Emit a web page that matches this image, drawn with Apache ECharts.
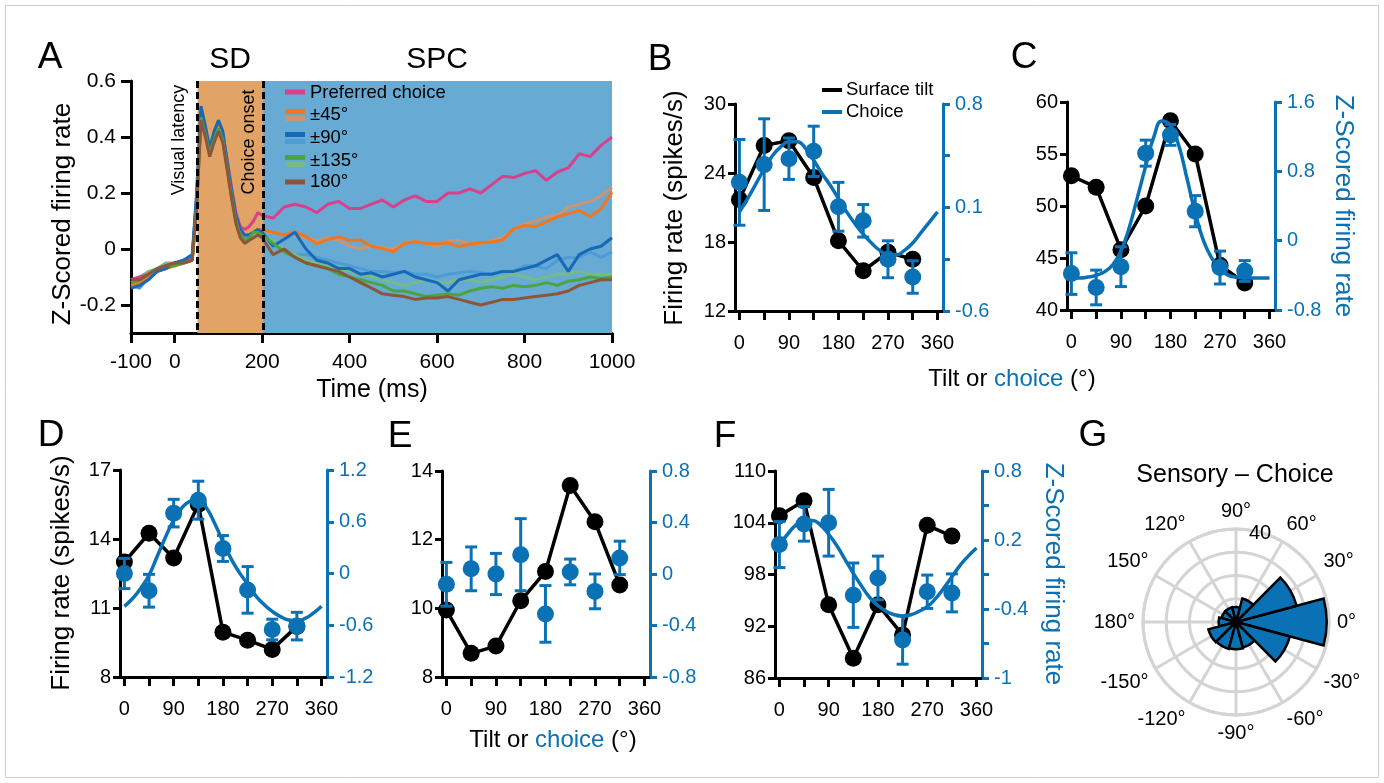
<!DOCTYPE html>
<html>
<head>
<meta charset="utf-8">
<script src="https://cdn.jsdelivr.net/npm/echarts@6/dist/echarts.min.js"></script>
<style>
  html, body { margin: 0; background: #fff; }
  #chart { width: 1384px; height: 783px; }
</style>
</head>
<body>
<div id="chart"></div>
<script>
// ---- panel A: population time courses (z-scored) ----
const timeMs = [-100,-80,-60,-40,-20,0,20,40,50,60,70,80,90,100,110,120,130,140,150,160,170,180,190,200,
  225,250,275,300,325,350,375,400,425,450,475,500,525,550,575,600,625,650,675,700,725,750,775,800,825,850,875,900,925,950,975,1000];
const prefChoice = [-0.11,-0.10,-0.09,-0.07,-0.06,-0.05,-0.05,-0.03,0.18,0.47,0.41,0.35,0.40,0.44,0.41,0.32,0.22,0.13,0.08,0.07,0.08,0.10,0.13,0.12,
  0.11,0.15,0.16,0.15,0.13,0.16,0.17,0.145,0.145,0.16,0.175,0.15,0.175,0.19,0.17,0.17,0.20,0.20,0.215,0.20,0.23,0.26,0.255,0.27,0.28,0.245,0.275,0.29,0.34,0.33,0.37,0.40];
const pm45 = [-0.13,-0.12,-0.10,-0.08,-0.07,-0.06,-0.05,-0.04,0.15,0.47,0.41,0.35,0.40,0.44,0.40,0.30,0.20,0.11,0.06,0.05,0.05,0.06,0.07,0.07,
  0.06,0.05,0.06,0.045,0.018,0.034,0.044,0.03,0.032,0.01,0.002,-0.01,0.02,0.026,0.02,0.018,0.022,0.008,0.018,0.022,0.025,0.032,0.072,0.084,0.08,0.097,0.115,0.126,0.138,0.115,0.144,0.203];
const pm45b = [-0.12,-0.11,-0.10,-0.08,-0.06,-0.05,-0.05,-0.04,0.15,0.46,0.40,0.34,0.39,0.43,0.40,0.30,0.20,0.11,0.06,0.04,0.05,0.06,0.06,0.06,
  0.06,0.05,0.05,0.04,0.03,0.04,0.03,0.01,0.0,0.01,0.005,0.0,0.02,0.03,0.02,0.01,0.03,0.03,0.02,0.02,0.03,0.04,0.07,0.09,0.10,0.115,0.12,0.15,0.16,0.17,0.19,0.22];
const pm90 = [-0.14,-0.13,-0.11,-0.08,-0.07,-0.05,-0.04,-0.02,0.20,0.51,0.44,0.36,0.42,0.46,0.42,0.31,0.21,0.12,0.07,0.05,0.05,0.06,0.07,0.06,
  0.01,0.035,0.06,0.0,-0.04,-0.05,-0.07,-0.07,-0.09,-0.085,-0.10,-0.09,-0.08,-0.10,-0.11,-0.12,-0.15,-0.11,-0.10,-0.09,-0.09,-0.08,-0.08,-0.07,-0.06,-0.04,-0.02,-0.08,-0.02,0.0,0.01,0.04];
const pm90b = [-0.13,-0.14,-0.10,-0.08,-0.07,-0.05,-0.05,-0.03,0.18,0.50,0.43,0.35,0.41,0.45,0.41,0.30,0.20,0.11,0.06,0.04,0.05,0.06,0.06,0.05,
  0.03,0.0,-0.02,-0.02,-0.03,-0.04,-0.05,-0.06,-0.07,-0.08,-0.08,-0.085,-0.08,-0.09,-0.09,-0.10,-0.09,-0.085,-0.08,-0.085,-0.09,-0.08,-0.08,-0.06,-0.06,-0.07,-0.04,-0.03,-0.03,-0.01,-0.03,-0.01];
const pm135 = [-0.12,-0.11,-0.09,-0.07,-0.06,-0.06,-0.05,-0.04,0.15,0.47,0.41,0.34,0.39,0.43,0.39,0.29,0.19,0.10,0.05,0.03,0.04,0.06,0.06,0.05,
  0.02,-0.01,-0.03,-0.05,-0.06,-0.07,-0.09,-0.10,-0.11,-0.12,-0.13,-0.15,-0.15,-0.16,-0.17,-0.165,-0.16,-0.165,-0.15,-0.14,-0.135,-0.14,-0.13,-0.135,-0.13,-0.12,-0.13,-0.115,-0.11,-0.10,-0.105,-0.10];
const pm135b = [-0.11,-0.10,-0.08,-0.07,-0.05,-0.05,-0.04,-0.03,0.15,0.47,0.40,0.34,0.39,0.43,0.39,0.29,0.19,0.10,0.05,0.03,0.04,0.05,0.06,0.05,
  0.03,0.0,-0.02,-0.04,-0.05,-0.06,-0.07,-0.08,-0.09,-0.10,-0.11,-0.12,-0.13,-0.12,-0.11,-0.12,-0.12,-0.11,-0.11,-0.12,-0.11,-0.10,-0.09,-0.10,-0.11,-0.10,-0.09,-0.09,-0.08,-0.09,-0.09,-0.09];
const opp180 = [-0.11,-0.11,-0.09,-0.07,-0.06,-0.05,-0.05,-0.04,0.14,0.46,0.40,0.33,0.38,0.42,0.38,0.28,0.18,0.09,0.04,0.02,0.03,0.04,0.05,0.04,
  -0.02,0.0,-0.03,-0.05,-0.06,-0.07,-0.08,-0.10,-0.12,-0.14,-0.16,-0.165,-0.17,-0.18,-0.175,-0.175,-0.17,-0.18,-0.19,-0.20,-0.19,-0.18,-0.18,-0.175,-0.17,-0.165,-0.16,-0.15,-0.13,-0.12,-0.11,-0.11];
const epochBounds = [52, 202, 1000];   // visual latency, choice onset, end
const timeTicks = [-100, 0, 200, 400, 600, 800, 1000];
const zTicksA = [-0.2, 0, 0.2, 0.4, 0.6];

// ---- panels B-F: tuning curves ----
const tiltAngles = [0, 45, 90, 135, 180, 225, 270, 315];
const fitAngles = [0,15,30,45,60,75,90,105,120,135,150,165,180,195,210,225,240,255,270,285,300,315,330,345,360];
const degTicks = [0, 45, 90, 135, 180, 225, 270, 315, 360];
const degLabels = [0, 90, 180, 270, 360];

const bTilt = [21.7, 26.4, 26.8, 23.6, 18.1, 15.5, 17.1, 16.5];
const bChoice = [0.27, 0.39, 0.43, 0.48, 0.105, 0.01, -0.25, -0.37];
const bChoiceErr = [0.29, 0.31, 0.14, 0.17, 0.165, 0.11, 0.125, 0.11];
const bFit = [0.07,0.16,0.26,0.36,0.45,0.51,0.545,0.545,0.5,0.42,0.33,0.25,0.16,0.07,-0.01,-0.08,-0.14,-0.19,-0.22,-0.22,-0.19,-0.14,-0.07,0.0,0.07];

const cTilt = [52.9, 51.8, 45.8, 50.0, 58.2, 55.0, 44.3, 42.6];
const cChoice = [-0.38, -0.54, -0.30, 1.01, 1.22, 0.34, -0.31, -0.35];
const cChoiceErr = [0.24, 0.2, 0.23, 0.15, 0.12, 0.18, 0.19, 0.12];
const cFit = [-0.43,-0.43,-0.42,-0.40,-0.36,-0.28,-0.12,0.15,0.5,0.86,1.2,1.38,1.33,1.1,0.72,0.32,0.0,-0.2,-0.33,-0.4,-0.42,-0.43,-0.43,-0.43,-0.43];

const dTilt = [13.0, 14.25, 13.17, 15.5, 9.95, 9.6, 9.2, 10.2];
const dChoice = [0.0, -0.2, 0.7, 0.85, 0.29, -0.19, -0.65, -0.61];
const dChoiceErr = [0.175, 0.19, 0.16, 0.22, 0.15, 0.27, 0.12, 0.16];
const dFit = [-0.38,-0.29,-0.17,-0.02,0.2,0.42,0.62,0.76,0.84,0.86,0.76,0.58,0.37,0.17,0.01,-0.12,-0.26,-0.36,-0.44,-0.5,-0.54,-0.55,-0.52,-0.46,-0.38];

const eTilt = [9.95, 8.69, 8.9, 10.22, 11.07, 13.58, 12.52, 10.68];
const eChoice = [-0.08, 0.04, 0.0, 0.15, -0.31, 0.016, -0.135, 0.125];
const eChoiceErr = [0.17, 0.17, 0.16, 0.28, 0.22, 0.1, 0.135, 0.13];

const fTilt = [104.8, 106.55, 94.5, 88.3, 94.5, 91.0, 103.7, 102.45];
const fChoice = [0.16, 0.34, 0.35, -0.28, -0.13, -0.67, -0.25, -0.26];
const fChoiceErr = [0.2, 0.15, 0.29, 0.28, 0.19, 0.21, 0.145, 0.165];
const fFit = [0.16,0.25,0.33,0.37,0.37,0.33,0.25,0.15,0.03,-0.09,-0.2,-0.3,-0.37,-0.42,-0.45,-0.46,-0.45,-0.42,-0.38,-0.31,-0.22,-0.12,-0.02,0.06,0.13];

// ---- panel G: sensory - choice difference histogram ----
const polarBins = ['0', '30', '60', '90', '120', '150', '180', '210', '240', '270', '300', '330'];
const polarCounts = [39, 27, 10.5, 6.4, 6.6, 6.5, 7.5, 12.3, 12, 11.7, 11.3, 24];

const FONT = '"Liberation Sans", Arial, sans-serif';
const BLUE = '#0A72B4';
const GRIDGRAY = '#d4d4d4';
const traceColors = {
  pref: '#D9408B', pm45: '#F07620', pm45b: '#C99577', pm90: '#1669B7', pm90b: '#4E9BD6',
  pm135: '#4CA441', pm135b: '#74BA8A', opp180: '#8C5638'
};

function txt(x, y, text, size, align, color, rotation) {
  return {
    type: 'text', x, y, rotation: rotation || 0, silent: true, z: 100,
    style: { text, fill: color || '#000', font: size + 'px ' + FONT, textAlign: align || 'center', textVerticalAlign: 'middle' }
  };
}
function swatch(x1, x2, y, color, w) {
  return { type: 'line', silent: true, z: 100, shape: { x1, y1: y, x2, y2: y }, style: { stroke: color, lineWidth: w } };
}
const fmt = v => String(+(+v).toFixed(2));

function valueAxis(gridIndex, position, s, color, margin) {
  return {
    type: 'value', gridIndex, position, min: s.min, max: s.max,
    axisLine: { show: true, onZero: false, lineStyle: { color, width: 3 } },
    axisTick: { show: true, length: 7, lineStyle: { color, width: 3 }, customValues: s.ticks },
    axisLabel: { customValues: s.labels || s.ticks, color, fontSize: 20, fontFamily: FONT, margin, formatter: fmt },
    splitLine: { show: false }
  };
}
function degAxis(gridIndex) {
  return {
    type: 'value', gridIndex, min: -8, max: 370,
    axisLine: { show: true, onZero: false, lineStyle: { color: '#000', width: 3 } },
    axisTick: { show: true, length: 9, lineStyle: { color: '#000', width: 3 }, customValues: degTicks },
    axisLabel: { customValues: degLabels, color: '#000', fontSize: 20, fontFamily: FONT, margin: 22, formatter: fmt },
    splitLine: { show: false }
  };
}
function errorBarItem(params, api) {
  const x = api.value(0);
  const lo = api.coord([x, api.value(1)]);
  const hi = api.coord([x, api.value(2)]);
  const half = 6;
  const style = { stroke: BLUE, lineWidth: 3 };
  return {
    type: 'group', children: [
      { type: 'line', shape: { x1: lo[0], y1: lo[1], x2: hi[0], y2: hi[1] }, style },
      { type: 'line', shape: { x1: lo[0] - half, y1: lo[1], x2: lo[0] + half, y2: lo[1] }, style },
      { type: 'line', shape: { x1: hi[0] - half, y1: hi[1], x2: hi[0] + half, y2: hi[1] }, style }
    ]
  };
}

// ---- panel A ----
const grid = [{ left: 131, top: 81, width: 481, height: 252 }];
const xAxis = [{
  type: 'value', gridIndex: 0, min: -100, max: 1000,
  axisLine: { show: true, onZero: false, lineStyle: { color: '#000', width: 3 } },
  axisTick: { show: true, length: 10, lineStyle: { color: '#000', width: 3 }, customValues: timeTicks },
  axisLabel: { customValues: timeTicks, color: '#000', fontSize: 21, fontFamily: FONT, margin: 19, formatter: fmt },
  splitLine: { show: false }
}];
const yAxis = [{
  type: 'value', gridIndex: 0, min: -0.3, max: 0.6,
  axisLine: { show: true, onZero: false, lineStyle: { color: '#000', width: 3 } },
  axisTick: { show: true, length: 10, lineStyle: { color: '#000', width: 3 }, customValues: zTicksA },
  axisLabel: { customValues: zTicksA, color: '#000', fontSize: 21, fontFamily: FONT, margin: 15, formatter: fmt },
  splitLine: { show: false }
}];

const series = [{
  type: 'line', xAxisIndex: 0, yAxisIndex: 0, data: [], z: 1, silent: true,
  markArea: {
    silent: true,
    data: [
      [{ xAxis: epochBounds[0], yAxis: 0.6, itemStyle: { color: '#E2A466' } }, { xAxis: epochBounds[1], yAxis: -0.3 }],
      [{ xAxis: epochBounds[1], yAxis: 0.6, itemStyle: { color: '#67ABD5' } }, { xAxis: epochBounds[2], yAxis: -0.3 }]
    ]
  },
  markLine: {
    silent: true, symbol: ['none', 'none'], label: { show: false },
    lineStyle: { color: '#000', width: 3, type: [7, 4] },
    data: [
      [{ xAxis: epochBounds[0], yAxis: 0.6 }, { xAxis: epochBounds[0], yAxis: -0.3 }],
      [{ xAxis: epochBounds[1], yAxis: 0.6 }, { xAxis: epochBounds[1], yAxis: -0.3 }]
    ]
  }
}];
[
  [pm45b, traceColors.pm45b], [pm90b, traceColors.pm90b], [pm135b, traceColors.pm135b],
  [prefChoice, traceColors.pref], [pm45, traceColors.pm45], [pm90, traceColors.pm90],
  [pm135, traceColors.pm135], [opp180, traceColors.opp180]
].forEach(([vals, color]) => {
  series.push({
    type: 'line', xAxisIndex: 0, yAxisIndex: 0, z: 2, showSymbol: false, silent: true,
    data: timeMs.map((t, i) => [t, vals[i]]),
    lineStyle: { color, width: 3 }, itemStyle: { color }
  });
});

// ---- panels B-F ----
const panels = [
  { grid: { left: 735, top: 104, width: 208, height: 207 },
    left: { min: 12, max: 30, ticks: [12, 18, 24, 30] },
    right: { min: -0.6, max: 0.8, ticks: [-0.6, -0.25, 0.1, 0.45, 0.8], labels: [-0.6, 0.1, 0.8] },
    tilt: bTilt, choice: bChoice, err: bChoiceErr, fit: bFit },
  { grid: { left: 1067, top: 102, width: 208, height: 208 },
    left: { min: 40, max: 60, ticks: [40, 45, 50, 55, 60] },
    right: { min: -0.8, max: 1.6, ticks: [-0.8, 0, 0.8, 1.6] },
    tilt: cTilt, choice: cChoice, err: cChoiceErr, fit: cFit },
  { grid: { left: 120, top: 470, width: 207, height: 207 },
    left: { min: 8, max: 17, ticks: [8, 11, 14, 17] },
    right: { min: -1.2, max: 1.2, ticks: [-1.2, -0.6, 0, 0.6, 1.2] },
    tilt: dTilt, choice: dChoice, err: dChoiceErr, fit: dFit },
  { grid: { left: 442, top: 471, width: 208, height: 206 },
    left: { min: 8, max: 14, ticks: [8, 10, 12, 14] },
    right: { min: -0.8, max: 0.8, ticks: [-0.8, -0.4, 0, 0.4, 0.8] },
    tilt: eTilt, choice: eChoice, err: eChoiceErr, fit: null },
  { grid: { left: 775, top: 471, width: 207, height: 207 },
    left: { min: 86, max: 110, ticks: [86, 92, 98, 104, 110] },
    right: { min: -1, max: 0.8, ticks: [-1, -0.7, -0.4, -0.1, 0.2, 0.5, 0.8], labels: [-1, -0.4, 0.2, 0.8] },
    tilt: fTilt, choice: fChoice, err: fChoiceErr, fit: fFit }
];

panels.forEach((p, k) => {
  const gi = k + 1;
  grid.push(p.grid);
  xAxis.push(degAxis(gi));
  const li = yAxis.length;
  yAxis.push(valueAxis(gi, 'left', p.left, '#000', 9));
  yAxis.push(valueAxis(gi, 'right', p.right, BLUE, 12));
  series.push({
    type: 'line', xAxisIndex: gi, yAxisIndex: li, z: 2, silent: true,
    data: tiltAngles.map((a, i) => [a, p.tilt[i]]),
    symbol: 'circle', symbolSize: 17,
    lineStyle: { color: '#000', width: 3.5 }, itemStyle: { color: '#000', opacity: 1 }
  });
  if (p.fit) {
    series.push({
      type: 'line', xAxisIndex: gi, yAxisIndex: li + 1, z: 3, silent: true, smooth: true, showSymbol: false,
      data: fitAngles.map((a, i) => [a, p.fit[i]]),
      lineStyle: { color: BLUE, width: 3.5 }
    });
  }
  series.push({
    type: 'custom', xAxisIndex: gi, yAxisIndex: li + 1, z: 4, silent: true,
    renderItem: errorBarItem, encode: { x: 0, y: [1, 2] },
    data: tiltAngles.map((a, i) => [a, p.choice[i] - p.err[i], p.choice[i] + p.err[i]])
  });
  series.push({
    type: 'scatter', xAxisIndex: gi, yAxisIndex: li + 1, z: 5, silent: true,
    data: tiltAngles.map((a, i) => [a, p.choice[i]]),
    symbolSize: 17, itemStyle: { color: BLUE, opacity: 1 }
  });
});

// ---- panel G ----
series.push({
  type: 'bar', coordinateSystem: 'polar', polarIndex: 1, data: polarCounts, barCategoryGap: '0%', z: 5, silent: true,
  itemStyle: { color: BLUE, borderColor: '#000', borderWidth: 2.5 }
});

const graphic = [
  { type: 'rect', silent: true, shape: { x: 5.5, y: 5.5, width: 1373, height: 772 }, style: { fill: 'none', stroke: '#cfcfcf', lineWidth: 1 } },
  txt(50, 58, 'A', 37), txt(660, 60, 'B', 37), txt(1024, 58, 'C', 37),
  txt(51, 436, 'D', 37), txt(400, 437, 'E', 37), txt(725, 437, 'F', 37), txt(1093, 436, 'G', 37),
  txt(230, 60, 'SD', 30), txt(437, 60, 'SPC', 30),
  txt(179, 140, 'Visual latency', 18, 'center', '#000', Math.PI / 2),
  txt(249, 142, 'Choice onset', 18, 'center', '#000', Math.PI / 2),
  txt(63, 214, 'Z-Scored firing rate', 26, 'center', '#000', Math.PI / 2),
  txt(372, 390, 'Time (ms)', 25),
  txt(675, 208, 'Firing rate (spikes/s)', 26, 'center', '#000', Math.PI / 2),
  txt(62, 573, 'Firing rate (spikes/s)', 26, 'center', '#000', Math.PI / 2),
  txt(1343, 206, 'Z-Scored firing rate', 26, 'center', BLUE, -Math.PI / 2),
  txt(1053, 574, 'Z-Scored firing rate', 26, 'center', BLUE, -Math.PI / 2),
  txt(1235, 475, 'Sensory \u2013 Choice', 25),
  txt(1260, 533, '40', 20),
  // legend A
  swatch(285, 305, 92, traceColors.pref, 5), txt(310, 93, 'Preferred choice', 18.5, 'left'),
  swatch(285, 305, 111.5, traceColors.pm45, 5), swatch(285, 305, 118.5, traceColors.pm45b, 5), txt(310, 115, '\u00b145\u00b0', 18.5, 'left'),
  swatch(285, 305, 134.5, traceColors.pm90, 5), swatch(285, 305, 141.5, traceColors.pm90b, 5), txt(310, 138, '\u00b190\u00b0', 18.5, 'left'),
  swatch(285, 305, 157.5, traceColors.pm135, 5), swatch(285, 305, 164.5, traceColors.pm135b, 5), txt(310, 161, '\u00b1135\u00b0', 18.5, 'left'),
  swatch(285, 305, 182, traceColors.opp180, 5), txt(310, 182, '180\u00b0', 18.5, 'left'),
  // legend B
  swatch(822, 842, 90, '#000', 4), txt(846, 90, 'Surface tilt', 18.5, 'left'),
  swatch(822, 842, 112, BLUE, 4), txt(846, 112, 'Choice', 18.5, 'left')
];
[[1012, 379], [553, 740]].forEach(([x, y]) => {
  graphic.push({
    type: 'text', x, y, silent: true, z: 100,
    style: {
      text: '{a|Tilt or }{b|choice}{a| (\u00b0)}', textAlign: 'center', textVerticalAlign: 'middle',
      font: '24px ' + FONT, fill: '#000',
      rich: {
        a: { fill: '#000', fontSize: 24, fontFamily: FONT },
        b: { fill: BLUE, fontSize: 24, fontFamily: FONT }
      }
    }
  });
});

const chart = echarts.init(document.getElementById('chart'));
chart.setOption({
  animation: false,
  backgroundColor: '#fff',
  textStyle: { fontFamily: FONT },
  grid, xAxis, yAxis,
  polar: [
    { center: [1236, 622], radius: 93 },
    { center: [1236, 622], radius: 93 }
  ],
  angleAxis: [
    { polarIndex: 0, type: 'value', min: -180, max: 180, interval: 30, startAngle: 180, clockwise: false,
      axisLine: { lineStyle: { color: GRIDGRAY, width: 3 } }, axisTick: { show: false },
      splitLine: { lineStyle: { color: GRIDGRAY, width: 3 } },
      axisLabel: { color: '#000', fontSize: 20, fontFamily: FONT, margin: 8,
        formatter: v => (v === 180 ? '' : (v === -180 ? '180\u00b0' : v + '\u00b0')) } },
    { polarIndex: 1, type: 'category', data: polarBins, startAngle: 345, clockwise: false,
      axisLine: { show: false }, axisTick: { show: false }, axisLabel: { show: false }, splitLine: { show: false } }
  ],
  radiusAxis: [
    { polarIndex: 0, min: 0, max: 40, interval: 10, axisLine: { show: false }, axisTick: { show: false },
      axisLabel: { show: false }, splitLine: { lineStyle: { color: GRIDGRAY, width: 3 } } },
    { polarIndex: 1, min: 0, max: 40, axisLine: { show: false }, axisTick: { show: false },
      axisLabel: { show: false }, splitLine: { show: false } }
  ],
  graphic,
  series
});
window.addEventListener('resize', () => chart.resize());
</script>
</body>
</html>
